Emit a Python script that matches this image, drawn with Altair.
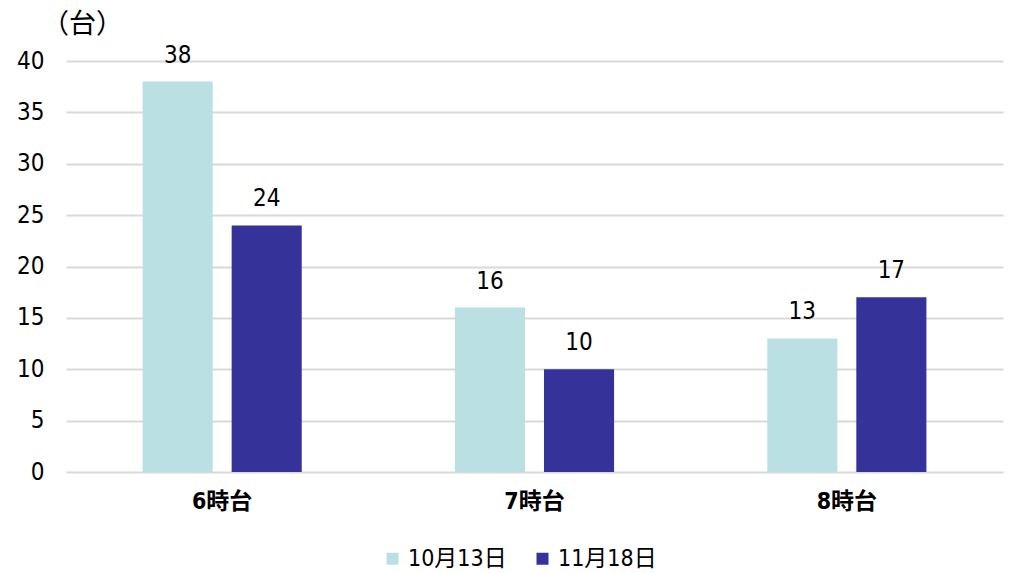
import altair as alt
import pandas as pd

# Vehicle counts by hour block, two survey dates
hours = ["6時台", "7時台", "8時台"]
dates = ["10月13日", "11月18日"]
counts_oct13 = [38, 16, 13]
counts_nov18 = [24, 10, 17]

colors = ["#BAE0E3", "#353399"]
font = "DejaVu Sans Condensed, Noto Sans CJK JP"

rows = []
for h, a, b in zip(hours, counts_oct13, counts_nov18):
    rows.append({"hour": h, "date": dates[0], "count": a})
    rows.append({"hour": h, "date": dates[1], "count": b})
df = pd.DataFrame(rows)

x = alt.X("hour:N", sort=hours, title=None,
          scale=alt.Scale(paddingInner=0, paddingOuter=0),
          axis=alt.Axis(labelAngle=0, labelFontSize=23, labelFontWeight="bold",
                        labelFont=font, labelColor="#000", labelPadding=18,
                        ticks=False, domain=False, grid=False))
xo = alt.XOffset("date:N", sort=dates,
                 scale=alt.Scale(paddingInner=0.213, paddingOuter=0.86))

base = alt.Chart(df).encode(x=x, xOffset=xo)

bars = base.mark_bar().encode(
    y=alt.Y("count:Q", title="（台）",
            scale=alt.Scale(domain=[0, 40]),
            axis=alt.Axis(values=list(range(0, 45, 5)), ticks=False, domain=False,
                          labelFontSize=24, labelFont=font, labelColor="#000",
                          labelPadding=22, gridColor="#D9D9D9", gridWidth=2,
                          titleAngle=0, titleX=16, titleY=-37, titleAlign="center",
                          titleBaseline="middle", titleFontSize=27,
                          titleFontWeight="normal", titleFont=font, titleColor="#000")),
    color=alt.Color("date:N", sort=dates, title=None,
                    scale=alt.Scale(domain=dates, range=colors),
                    legend=alt.Legend(orient="none", legendX=315, legendY=486,
                                      direction="horizontal", symbolType="square",
                                      symbolSize=144, symbolStrokeWidth=0,
                                      labelFontSize=23, labelFont=font,
                                      labelColor="#000", labelOffset=4,
                                      columnPadding=24)),
)

labels = base.mark_text(baseline="bottom", dy=-14, fontSize=24, font=font,
                        color="#000").encode(
    y="count:Q",
    text="count:Q",
)

chart = (bars + labels).properties(
    width=937, height=411,
    padding={"left": 66, "top": 61, "right": 10, "bottom": 101},
    autosize=alt.AutoSizeParams(type="none"),
    background="white",
).configure_view(stroke=None)

chart.save("out.html", embed_options={"renderer": "svg", "actions": False})
